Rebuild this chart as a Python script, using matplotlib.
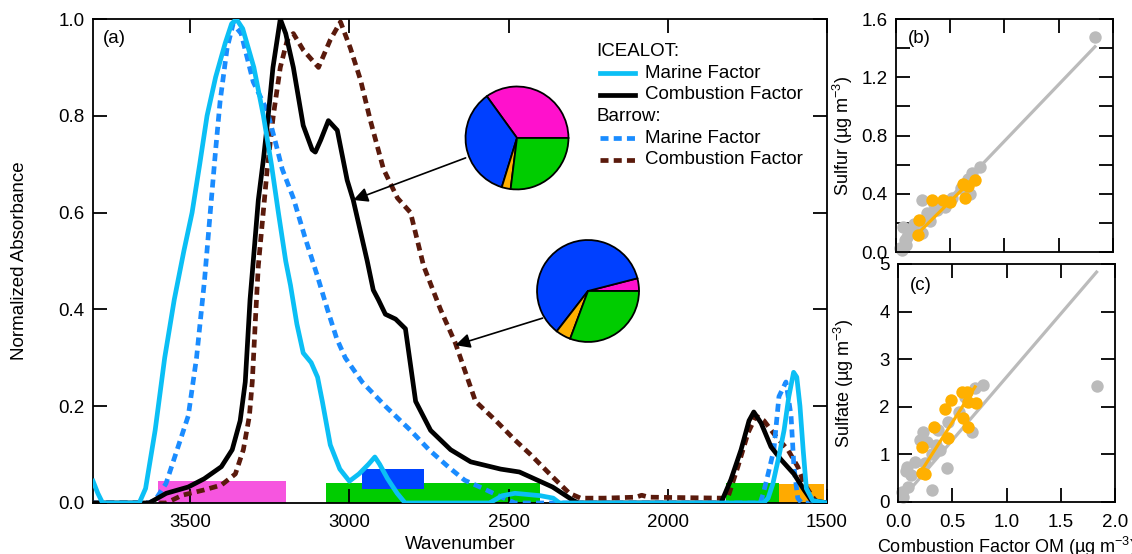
import matplotlib
matplotlib.use('Agg')
import matplotlib.pyplot as plt
from matplotlib.lines import Line2D

plt.rcParams['font.family'] = ['Liberation Sans', 'DejaVu Sans']
plt.rcParams['mathtext.default'] = 'regular'

# --- spectra (wavenumber, normalized absorbance) ---
icealot_marine_wn = [3805, 3790, 3775, 3660, 3640, 3610, 3580, 3550, 3520, 3494, 3470, 3447, 3420, 3390,
                     3370, 3355, 3335, 3300, 3270, 3245, 3223, 3200, 3185, 3165, 3145, 3120, 3100, 3085,
                     3060, 3030, 3000, 2970, 2940, 2920, 2905, 2880, 2850, 2825, 2560, 2520, 2480, 2400,
                     2360, 2340, 1700, 1685, 1670, 1650, 1635, 1620, 1605, 1595, 1585, 1575, 1565, 1545, 1500]
icealot_marine_abs = [0.045, 0.02, 0.0, 0.0, 0.03, 0.15, 0.3, 0.42, 0.52, 0.6, 0.7, 0.8, 0.88, 0.95,
                      0.99, 1.0, 0.98, 0.9, 0.8, 0.7, 0.6, 0.5, 0.45, 0.37, 0.31, 0.29, 0.26, 0.21,
                      0.12, 0.07, 0.045, 0.06, 0.08, 0.095, 0.08, 0.05, 0.02, 0.0, 0.0, 0.015, 0.02, 0.015,
                      0.01, 0.0, 0.0, 0.01, 0.04, 0.1, 0.15, 0.22, 0.27, 0.26, 0.2, 0.11, 0.03, 0.005, 0.0]

icealot_comb_wn = [3805, 3629, 3575, 3506, 3456, 3402, 3368, 3343, 3327, 3312, 3305, 3286, 3270, 3255,
                   3240, 3217, 3200, 3176, 3145, 3117, 3107, 3090, 3066, 3038, 3007, 2988, 2944, 2925,
                   2909, 2887, 2855, 2824, 2792, 2745, 2682, 2619, 2525, 2466, 2362, 2299, 2280, 1833,
                   1802, 1770, 1745, 1730, 1707, 1676, 1645, 1604, 1572, 1550, 1500]
icealot_comb_abs = [0.0, 0.0, 0.02, 0.033, 0.05, 0.075, 0.11, 0.17, 0.25, 0.42, 0.475, 0.626, 0.71, 0.8,
                    0.9, 1.0, 0.97, 0.9, 0.78, 0.73, 0.725, 0.75, 0.79, 0.77, 0.667, 0.626, 0.5, 0.44,
                    0.42, 0.39, 0.38, 0.36, 0.21, 0.15, 0.11, 0.085, 0.07, 0.064, 0.033, 0.006, 0.0, 0.0,
                    0.048, 0.11, 0.17, 0.188, 0.165, 0.116, 0.09, 0.06, 0.027, 0.006, 0.0]

barrow_marine_wn = [3805, 3630, 3610, 3576, 3541, 3506, 3480, 3455, 3437, 3420, 3406, 3384, 3365, 3340,
                    3302, 3258, 3230, 3211, 3176, 3140, 3101, 3069, 3040, 3013, 2960, 2887, 2808, 2750,
                    2690, 2638, 2580, 2535, 2480, 1710, 1700, 1685, 1667, 1651, 1629, 1613, 1604, 1592,
                    1580, 1500]
barrow_marine_abs = [0.0, 0.0, 0.006, 0.04, 0.11, 0.18, 0.3, 0.46, 0.6, 0.73, 0.83, 0.94, 0.99, 0.97,
                     0.87, 0.81, 0.74, 0.69, 0.63, 0.55, 0.47, 0.4, 0.34, 0.3, 0.25, 0.2, 0.15, 0.11,
                     0.075, 0.047, 0.03, 0.016, 0.0, 0.0, 0.02, 0.06, 0.11, 0.22, 0.25, 0.18, 0.075, 0.01,
                     0.0, 0.0]

barrow_comb_wn = [3805, 3575, 3525, 3456, 3402, 3358, 3333, 3314, 3305, 3295, 3286, 3258, 3239, 3217,
                  3195, 3176, 3145, 3097, 3060, 3028, 2997, 2965, 2934, 2893, 2849, 2808, 2767, 2714,
                  2667, 2604, 2540, 2480, 2431, 2362, 2309, 2274, 2200, 2100, 2082, 2060, 1830, 1811,
                  1780, 1748, 1723, 1698, 1660, 1623, 1592, 1572, 1545, 1530, 1500]
barrow_comb_abs = [0.0, 0.0, 0.016, 0.027, 0.037, 0.06, 0.11, 0.18, 0.25, 0.38, 0.49, 0.69, 0.8, 0.9,
                   0.957, 0.97, 0.936, 0.9, 0.957, 0.994, 0.94, 0.874, 0.79, 0.69, 0.63, 0.6, 0.49, 0.4,
                   0.33, 0.21, 0.17, 0.13, 0.1, 0.054, 0.02, 0.01, 0.01, 0.012, 0.016, 0.012, 0.01, 0.012,
                   0.075, 0.145, 0.18, 0.17, 0.137, 0.11, 0.075, 0.04, 0.012, 0.0, 0.0]

# functional group bands: (start, end, bottom, top, colour)
band_start = [3600, 3075, 2960, 1818, 1650]
band_end = [3200, 2400, 2765, 1651, 1510]
band_bottom = [0.0, 0.0, 0.028, 0.0, 0.0]
band_top = [0.045, 0.042, 0.07, 0.041, 0.04]
band_colors = ['#F655DF', '#00CC00', '#0044FF', '#00CC00', '#FFAA00']

# pie fractions, counterclockwise from 0 deg: hydroxyl, alkane, amine, carbonyl
pie_colors = ['#FF11CC', '#0040FF', '#FFB000', '#00CC00']
pie_icealot = [0.35, 0.353, 0.028, 0.27]
pie_barrow = [0.04, 0.605, 0.048, 0.307]

# --- scatter panels ---
sulfur_grey_x = [1.834, 0.774, 0.70, 0.66, 0.68, 0.60, 0.24, 0.45, 0.38, 0.285, 0.31, 0.13, 0.065, 0.08,
                 0.055, 0.24, 0.10, 0.17, 0.04, 0.52, 0.35, 0.09]
sulfur_grey_y = [1.479, 0.584, 0.54, 0.50, 0.40, 0.44, 0.357, 0.31, 0.29, 0.27, 0.21, 0.15, 0.17, 0.08,
                 0.014, 0.13, 0.10, 0.19, 0.03, 0.37, 0.33, 0.05]
sulfur_orange_x = [0.205, 0.21, 0.33, 0.43, 0.5, 0.62, 0.64, 0.73, 0.66]
sulfur_orange_y = [0.117, 0.22, 0.357, 0.357, 0.345, 0.47, 0.37, 0.494, 0.45]
sulfur_grey_fit_x = [0.055, 1.834]
sulfur_grey_fit_y = [0.027, 1.41]
sulfur_orange_fit_x = [0.205, 0.68]
sulfur_orange_fit_y = [0.13, 0.48]

sulfate_grey_x = [1.83, 0.78, 0.71, 0.68, 0.46, 0.37, 0.39, 0.45, 0.31, 0.23, 0.27, 0.16, 0.08, 0.07,
                  0.12, 0.09, 0.05, 0.25, 0.31, 0.56, 0.62, 0.2, 0.35, 0.04]
sulfate_grey_y = [2.44, 2.46, 2.4, 1.47, 1.68, 1.51, 1.09, 0.71, 0.25, 1.47, 1.26, 0.84, 0.74, 0.65,
                  0.57, 0.32, 0.1, 0.82, 1.0, 1.9, 2.2, 1.3, 1.2, 0.2]
sulfate_orange_x = [0.22, 0.25, 0.22, 0.33, 0.46, 0.43, 0.49, 0.59, 0.635, 0.645, 0.72, 0.6, 0.645]
sulfate_orange_y = [0.6, 0.58, 1.16, 1.58, 1.35, 1.95, 2.15, 2.31, 2.31, 2.1, 2.07, 1.77, 1.58]
sulfate_grey_fit_x = [0.05, 1.83]
sulfate_grey_fit_y = [0.1, 4.83]
sulfate_orange_fit_x = [0.22, 0.71]
sulfate_orange_fit_y = [0.67, 2.42]

LIGHT_BLUE = '#0BBFF5'
DASH_BLUE = '#1A8CFF'
BROWN = '#5A1A0C'
GREY = '#BBBBBB'
ORANGE = '#FFB000'
FS = 13.5
LW = 3.4
DASH = (1.7, 1.1)
MS = 80


def style_axes(ax):
    for s in ax.spines.values():
        s.set_linewidth(1.3)
    ax.tick_params(which='both', direction='in', top=True, right=True, length=10, width=1.3,
                   labelsize=FS, pad=6)


fig = plt.figure(figsize=(11.32, 5.54), dpi=100)

# --- (a) spectra ---
ax = fig.add_axes([0.0822, 0.0921, 0.6484, 0.8736])
for x0, x1, y0, y1, c in zip(band_start, band_end, band_bottom, band_top, band_colors):
    ax.fill_between([x0, x1], y0, y1, color=c, lw=0, zorder=1)
ax.plot(barrow_comb_wn, barrow_comb_abs, color=BROWN, lw=LW, dashes=DASH, zorder=2)
ax.plot(barrow_marine_wn, barrow_marine_abs, color=DASH_BLUE, lw=LW, dashes=DASH, zorder=3)
ax.plot(icealot_comb_wn, icealot_comb_abs, color='black', lw=LW, zorder=4)
ax.plot(icealot_marine_wn, icealot_marine_abs, color=LIGHT_BLUE, lw=LW, zorder=5)
ax.set_xlim(3805, 1500)
ax.set_ylim(0, 1.0)
ax.set_xticks([3500, 3000, 2500, 2000, 1500])
ax.set_yticks([0.0, 0.2, 0.4, 0.6, 0.8, 1.0])
ax.set_yticklabels(['0.0', '0.2', '0.4', '0.6', '0.8', '1.0'])
style_axes(ax)
ax.tick_params(axis='x', pad=8)
ax.set_xlabel('Wavenumber', fontsize=FS)
ax.set_ylabel('Normalized Absorbance', fontsize=FS)
ax.xaxis.set_label_coords(0.5, -0.068)
ax.yaxis.set_label_coords(-0.088, 0.5)
ax.text(0.0136, 0.96, '(a)', transform=ax.transAxes, fontsize=FS, va='center')

# legend built by hand so the headers sit flush left
leg_rows = [
    ('ICEALOT:', None, None, 0.932),
    ('Marine Factor', LIGHT_BLUE, None, 0.888),
    ('Combustion Factor', 'black', None, 0.843),
    ('Barrow:', None, None, 0.798),
    ('Marine Factor', DASH_BLUE, DASH, 0.754),
    ('Combustion Factor', BROWN, DASH, 0.709),
]
for label, col, dash, yy in leg_rows:
    if col is None:
        ax.text(0.686, yy, label, transform=ax.transAxes, fontsize=FS, va='center')
        continue
    ln = Line2D([0.691, 0.738], [yy, yy], transform=ax.transAxes, color=col, lw=LW)
    if dash:
        ln.set_dashes(DASH)
    ax.add_line(ln)
    ax.text(0.752, yy, label, transform=ax.transAxes, fontsize=FS, va='center')

# arrows from pies to curves
arrow_kw = dict(arrowstyle='-|>', color='black', lw=1.2, mutation_scale=22, shrinkA=0, shrinkB=0)
ax.annotate('', xy=(2988, 0.626), xytext=(2635, 0.713), arrowprops=arrow_kw, zorder=6)
ax.annotate('', xy=(2667, 0.326), xytext=(2393, 0.382), arrowprops=arrow_kw, zorder=6)

# pies
for rect, fracs in [([0.4103, 0.6562, 0.0928, 0.1895], pie_icealot),
                    ([0.4735, 0.3809, 0.0919, 0.1877], pie_barrow)]:
    pax = fig.add_axes(rect)
    pax.pie(fracs, colors=pie_colors, startangle=0, counterclock=True,
            wedgeprops=dict(edgecolor='black', linewidth=1.3))
    pax.set_xlim(-1.02, 1.02)
    pax.set_ylim(-1.02, 1.02)
    pax.set_aspect('equal')

# --- (b) sulfur ---
axb = fig.add_axes([0.7915, 0.5451, 0.1917, 0.4206])
axb.plot(sulfur_grey_fit_x, sulfur_grey_fit_y, color=GREY, lw=2.3, zorder=1)
axb.scatter(sulfur_grey_x, sulfur_grey_y, s=MS, color=GREY, lw=0, zorder=2)
axb.plot(sulfur_orange_fit_x, sulfur_orange_fit_y, color=ORANGE, lw=2.3, zorder=3)
axb.scatter(sulfur_orange_x, sulfur_orange_y, s=MS, color=ORANGE, lw=0, zorder=4)
axb.set_xlim(0, 2.0)
axb.set_ylim(0, 1.6)
axb.set_xticks([0.0, 0.5, 1.0, 1.5, 2.0])
axb.set_yticks([0.0, 0.2, 0.4, 0.6, 0.8, 1.0, 1.2, 1.4, 1.6])
axb.set_yticklabels(['0.0', '', '0.4', '', '0.8', '', '1.2', '', '1.6'])
axb.set_xticklabels([])
style_axes(axb)
axb.set_ylabel('Sulfur (µg m$^{-3}$)', fontsize=13)
axb.yaxis.set_label_coords(-0.19, 0.5)
axb.text(0.055, 0.918, '(b)', transform=axb.transAxes, fontsize=FS, va='center')
for c in axb.collections:
    c.set_clip_on(False)

# --- (c) sulfate ---
axc = fig.add_axes([0.7933, 0.0939, 0.1917, 0.4296])
axc.plot(sulfate_grey_fit_x, sulfate_grey_fit_y, color=GREY, lw=2.3, zorder=1)
axc.scatter(sulfate_grey_x, sulfate_grey_y, s=MS, color=GREY, lw=0, zorder=2)
axc.plot(sulfate_orange_fit_x, sulfate_orange_fit_y, color=ORANGE, lw=2.3, zorder=3)
axc.scatter(sulfate_orange_x, sulfate_orange_y, s=MS, color=ORANGE, lw=0, zorder=4)
axc.set_xlim(0, 2.0)
axc.set_ylim(0, 5)
axc.set_xticks([0.0, 0.5, 1.0, 1.5, 2.0])
axc.set_xticklabels(['0.0', '0.5', '1.0', '1.5', '2.0'])
axc.set_yticks([0, 1, 2, 3, 4, 5])
style_axes(axc)
axc.tick_params(axis='x', pad=9)
axc.set_ylabel('Sulfate (µg m$^{-3}$)', fontsize=13)
axc.set_xlabel('Combustion Factor OM (µg m$^{-3}$)', fontsize=13)
axc.yaxis.set_label_coords(-0.195, 0.5)
axc.xaxis.set_label_coords(0.5, -0.14)
axc.text(0.055, 0.91, '(c)', transform=axc.transAxes, fontsize=FS, va='center')
for c in axc.collections:
    c.set_clip_on(False)

fig.savefig('out.png', dpi=100)
